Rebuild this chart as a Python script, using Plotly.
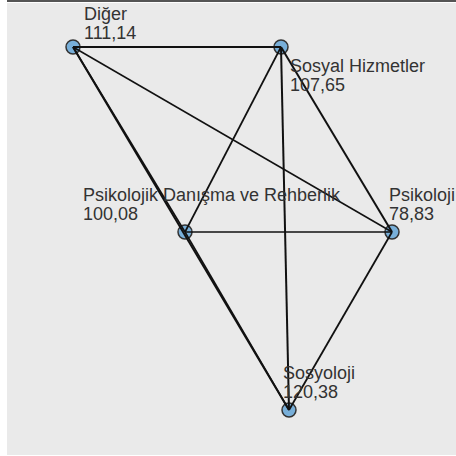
import plotly.graph_objects as go

# ---- data ----
node_names = ["Diğer", "Sosyal Hizmetler", "Psikolojik Danışma ve Rehberlik", "Psikoloji", "Sosyoloji"]
node_values = ["111,14", "107,65", "100,08", "78,83", "120,38"]
# layout coordinates of the network (x to the right, y downward)
node_x = [66, 274, 178, 385, 282]
node_y = [44, 44, 229, 229, 407]
edges = [
    ("Diğer", "Sosyal Hizmetler"),
    ("Diğer", "Psikoloji"),
    ("Diğer", "Sosyoloji"),
    ("Diğer", "Psikolojik Danışma ve Rehberlik"),
    ("Sosyal Hizmetler", "Psikolojik Danışma ve Rehberlik"),
    ("Sosyal Hizmetler", "Psikoloji"),
    ("Sosyal Hizmetler", "Sosyoloji"),
    ("Psikolojik Danışma ve Rehberlik", "Psikoloji"),
    ("Psikolojik Danışma ve Rehberlik", "Sosyoloji"),
    ("Psikoloji", "Sosyoloji"),
]

# ---- styles ----
edge_width = [2.2, 1.5, 2.0, 1.6, 1.7, 2.0, 2.0, 1.7, 1.6, 1.8]
label_offset = {  # (xshift, yshift of name line) in px
    "Diğer": (9, 33.5),
    "Sosyal Hizmetler": (7, -18.5),
    "Psikolojik Danışma ve Rehberlik": (-104, 37.5),
    "Psikoloji": (-5, 37),
    "Sosyoloji": (-8.5, 37),
}
LINE_GAP = 19
FONT = dict(family="Liberation Sans, Arial, sans-serif", size=18, color="#333333")

idx = {n: i for i, n in enumerate(node_names)}

fig = go.Figure()
fig.add_trace(go.Scatter(
    x=node_x, y=node_y, mode="markers",
    marker=dict(size=14, color="#78afd9", line=dict(color="#333333", width=1.5)),
    text=[f"{n}<br>{v}" for n, v in zip(node_names, node_values)],
    hoverinfo="text", showlegend=False))

for (a, b), w in zip(edges, edge_width):
    ia, ib = idx[a], idx[b]
    fig.add_trace(go.Scatter(
        x=[node_x[ia], node_x[ib]], y=[node_y[ia], node_y[ib]],
        mode="lines", line=dict(color="#111111", width=w),
        hoverinfo="skip", showlegend=False))

for n, v, x, y in zip(node_names, node_values, node_x, node_y):
    dx, dy = label_offset[n]
    for txt, sh in ((n, dy), (v, dy - LINE_GAP)):
        fig.add_annotation(x=x, y=y, text=txt, showarrow=False,
                           xanchor="left", yanchor="middle",
                           xshift=dx, yshift=sh, font=FONT)

fig.add_shape(type="line", xref="paper", yref="paper",
              x0=0, x1=1, y0=1.0045, y1=1.0045,
              line=dict(color="#555555", width=2))

fig.update_layout(
    width=456, height=456,
    margin=dict(l=7, r=0, t=3, b=1),
    paper_bgcolor="white", plot_bgcolor="#eaeaea",
    xaxis=dict(range=[0, 449], visible=False, fixedrange=True),
    yaxis=dict(range=[452, 0], visible=False, fixedrange=True),
)
fig.write_html("out.html", config={"displayModeBar": False},
               post_script="document.body.style.margin='0';document.body.style.overflow='hidden';")
